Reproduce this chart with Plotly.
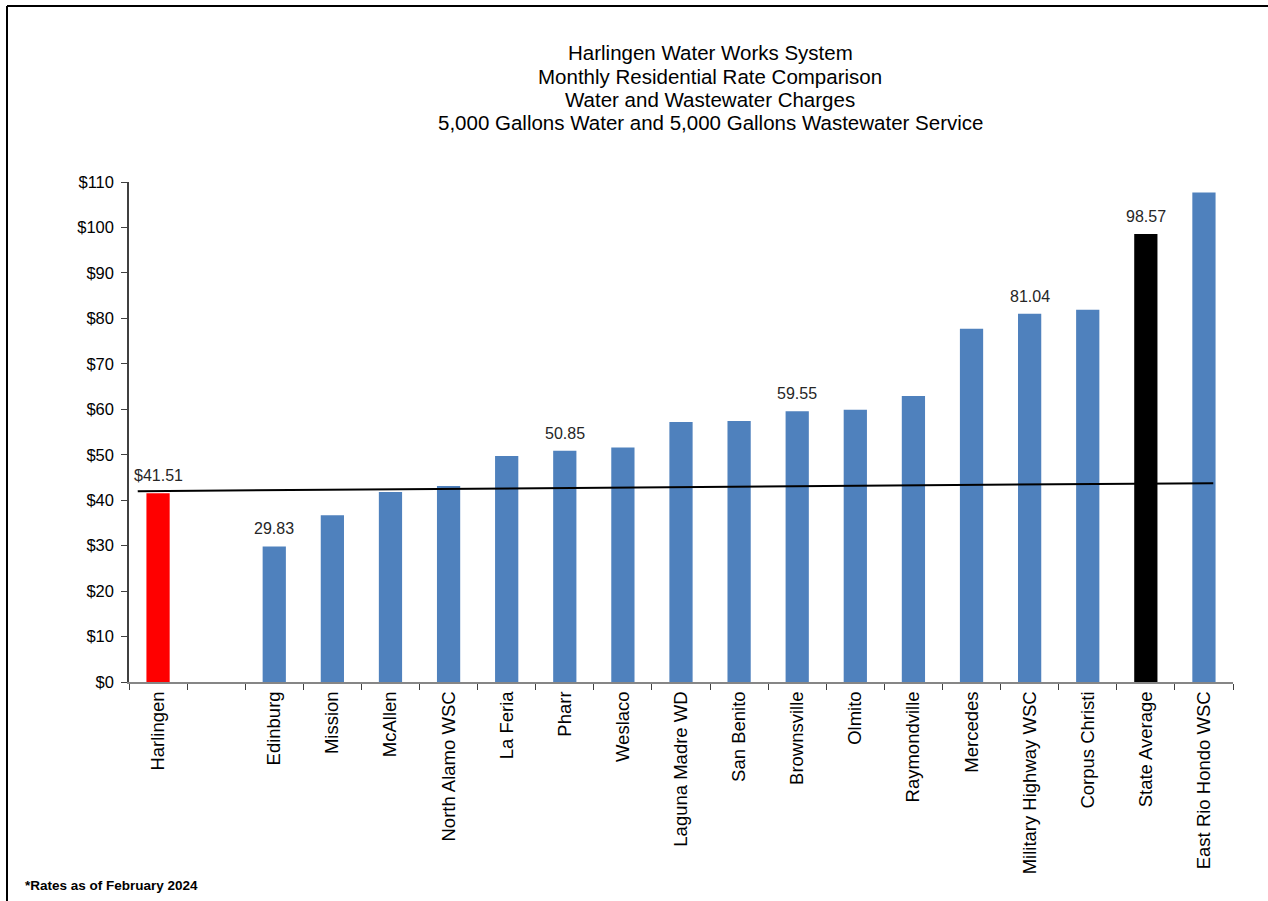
import plotly.graph_objects as go

# ---- data ----
categories = ["Harlingen", "", "Edinburg", "Mission", "McAllen", "North Alamo WSC",
              "La Feria", "Pharr", "Weslaco", "Laguna Madre WD", "San Benito",
              "Brownsville", "Olmito", "Raymondville", "Mercedes",
              "Military Highway WSC", "Corpus Christi", "State Average",
              "East Rio Hondo WSC"]
rates = [41.51, None, 29.83, 36.7, 41.8, 43.1, 49.7, 50.85, 51.6, 57.2, 57.4,
         59.55, 59.9, 62.9, 77.7, 81.04, 81.9, 98.57, 107.7]
labels = ["$41.51", "", "29.83", "", "", "", "", "50.85", "", "", "",
          "59.55", "", "", "", "81.04", "", "98.57", ""]
trend_x = [-0.35, 18.16]
trend_y = [41.98, 43.75]
y_ticks = list(range(0, 111, 10))
title_lines = ["Harlingen Water Works System",
               "Monthly Residential Rate Comparison",
               "Water and Wastewater Charges",
               "5,000 Gallons Water and 5,000 Gallons Wastewater Service"]
footnote = "*Rates as of February 2024"

BLUE = "#4F81BD"
colors = []
for c in categories:
    if c == "Harlingen":
        colors.append("#FF0000")
    elif c == "State Average":
        colors.append("#000000")
    else:
        colors.append(BLUE)

FONT = "Liberation Sans, Arial, sans-serif"
idx = list(range(len(categories)))

# plot area in pixels: x 129..1233, y 182..682
PL, PR, PT, PB = 129, 1233, 182, 682


def px_x(p):
    return (p - PL) / (PR - PL)


def px_y(p):
    return (PB - p) / (PB - PT)


fig = go.Figure()
fig.add_trace(go.Bar(x=idx, y=rates, marker=dict(color=colors, line=dict(width=0)),
                     width=0.4, hoverinfo="x+y", showlegend=False))
fig.add_trace(go.Scatter(x=trend_x, y=trend_y, mode="lines",
                         line=dict(color="#000000", width=2), showlegend=False,
                         hoverinfo="skip"))

annotations = []
for i, (v, t) in enumerate(zip(rates, labels)):
    if t:
        annotations.append(dict(x=i, y=v, text=t, showarrow=False, xref="x", yref="y",
                                xanchor="center", yanchor="bottom", yshift=7,
                                font=dict(family=FONT, size=16, color="#262626")))

title_centers = [52, 76, 99.5, 123]
for line, yc in zip(title_lines, title_centers):
    annotations.append(dict(x=px_x(710), y=px_y(yc), xref="paper", yref="paper",
                            text=line, showarrow=False,
                            xanchor="center", yanchor="middle", align="center",
                            font=dict(family=FONT, size=20.5, color="#000000")))
annotations.append(dict(x=px_x(23), y=px_y(885), xref="paper", yref="paper",
                        text="<b>" + footnote + "</b>", showarrow=False,
                        xanchor="left", yanchor="middle",
                        font=dict(family=FONT, size=13.5, color="#000000")))

shapes = [
    dict(type="line", xref="paper", yref="paper",
         x0=px_x(7), x1=px_x(1268), y0=px_y(6), y1=px_y(6),
         line=dict(color="#000000", width=2)),
    dict(type="line", xref="paper", yref="paper",
         x0=px_x(7), x1=px_x(7), y0=px_y(6), y1=px_y(905),
         line=dict(color="#000000", width=2)),
]

fig.update_layout(
    width=1268, height=901,
    margin=dict(l=PL, r=1268 - PR, t=PT, b=901 - PB, pad=0),
    paper_bgcolor="white", plot_bgcolor="white",
    font=dict(family=FONT, color="#000000"),
    showlegend=False,
    annotations=annotations,
    shapes=shapes,
    xaxis=dict(range=[-0.5, len(categories) - 0.5], tickmode="array",
               tickvals=idx, ticktext=categories, tickangle=-90,
               ticks="", showgrid=False, zeroline=False,
               showline=True, linecolor="#868686", linewidth=2,
               tickfont=dict(family=FONT, size=18.5, color="#000000"),
               minor=dict(tick0=-0.5, dtick=1, ticks="outside", ticklen=6,
                          tickcolor="#404040", tickwidth=1, showgrid=False)),
    yaxis=dict(range=[0, 110], tickmode="array", tickvals=y_ticks,
               ticktext=["$" + str(v) for v in y_ticks],
               ticks="outside", ticklen=6, tickcolor="#404040",
               ticklabelstandoff=4,
               showgrid=False, zeroline=False, showline=True,
               linecolor="#404040", linewidth=1.5,
               tickfont=dict(family=FONT, size=16.5, color="#000000")),
)

fig.write_html("out.html")
